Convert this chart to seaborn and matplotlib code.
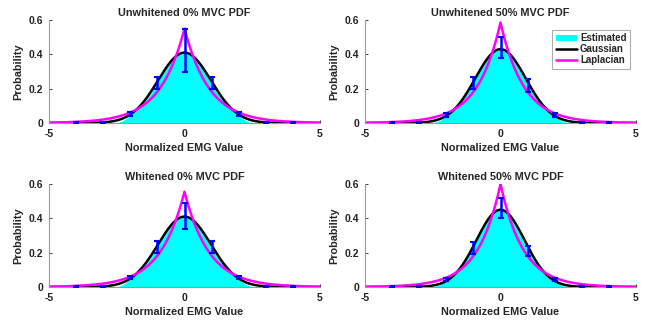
import numpy as np
import pandas as pd
import matplotlib
matplotlib.use("Agg")
import matplotlib.pyplot as plt
import seaborn as sns

sns.set_theme(style="ticks")
plt.rcParams['font.family'] = ['Liberation Sans', 'DejaVu Sans']
plt.rcParams['font.weight'] = 'bold'
plt.rcParams['axes.unicode_minus'] = False

titles = ["Unwhitened 0% MVC PDF", "Unwhitened 50% MVC PDF",
          "Whitened 0% MVC PDF", "Whitened 50% MVC PDF"]

# peak heights of fitted PDFs
gauss_peak = [0.41, 0.43, 0.41, 0.45]
lap_peak = [0.55, 0.585, 0.555, 0.60]

# estimated PDF (cyan area) sampled at these x positions
est_x = [-2.5, -2.25, -2.0, -1.75, -1.5, -1.25, -1.0, -0.75, -0.5, -0.25, 0.0,
         0.25, 0.5, 0.75, 1.0, 1.25, 1.5, 1.75, 2.0, 2.25, 2.5]
est_1 = [0.0, 0.015, 0.045, 0.075, 0.115, 0.17, 0.235, 0.30, 0.355, 0.395, 0.41,
         0.395, 0.355, 0.30, 0.235, 0.17, 0.115, 0.075, 0.045, 0.015, 0.0]
est_2 = [0.0, 0.013, 0.042, 0.072, 0.112, 0.17, 0.238, 0.31, 0.37, 0.415, 0.43,
         0.41, 0.36, 0.295, 0.225, 0.162, 0.108, 0.07, 0.042, 0.013, 0.0]
est_3 = [0.0, 0.016, 0.048, 0.078, 0.118, 0.172, 0.235, 0.30, 0.355, 0.395, 0.41,
         0.395, 0.355, 0.30, 0.235, 0.172, 0.118, 0.078, 0.048, 0.016, 0.0]
est_4 = [0.0, 0.012, 0.04, 0.068, 0.108, 0.165, 0.232, 0.31, 0.38, 0.435, 0.46,
         0.43, 0.37, 0.295, 0.218, 0.155, 0.102, 0.066, 0.04, 0.012, 0.0]
est_all = [est_1, est_2, est_3, est_4]

# error bars at integer points
eb_x = [-4, -3, -2, -1, 0, 1, 2, 3, 4]
eb_mean_1 = [0.002, 0.004, 0.05, 0.235, 0.425, 0.235, 0.05, 0.004, 0.002]
eb_err_1 = [0.002, 0.003, 0.012, 0.035, 0.125, 0.035, 0.012, 0.003, 0.002]
eb_mean_2 = [0.002, 0.004, 0.047, 0.235, 0.44, 0.22, 0.047, 0.004, 0.002]
eb_err_2 = [0.002, 0.003, 0.012, 0.035, 0.06, 0.037, 0.012, 0.003, 0.002]
eb_mean_3 = [0.002, 0.004, 0.055, 0.235, 0.415, 0.235, 0.055, 0.004, 0.002]
eb_err_3 = [0.002, 0.003, 0.01, 0.035, 0.075, 0.035, 0.01, 0.003, 0.002]
eb_mean_4 = [0.002, 0.004, 0.045, 0.225, 0.46, 0.21, 0.045, 0.004, 0.002]
eb_err_4 = [0.002, 0.003, 0.01, 0.035, 0.06, 0.03, 0.01, 0.003, 0.002]
eb_means = [eb_mean_1, eb_mean_2, eb_mean_3, eb_mean_4]
eb_errs = [eb_err_1, eb_err_2, eb_err_3, eb_err_4]

W, H = 646, 322
fig = plt.figure(figsize=(W / 100, H / 100), dpi=100)

# axes boxes in pixels: left, top, right, bottom
boxes = [(49, 20, 320, 123), (365, 20, 636, 123),
         (49, 184, 320, 287), (365, 184, 636, 287)]

xs = np.linspace(-5, 5, 801)
for i in range(4):
    l, t, r, b = boxes[i]
    ax = fig.add_axes([l / W, 1 - b / H, (r - l) / W, (b - t) / H])
    sig = 1.0 / (gauss_peak[i] * np.sqrt(2 * np.pi))
    lb = 1.0 / (2 * lap_peak[i])
    g = np.exp(-xs ** 2 / (2 * sig ** 2)) / (sig * np.sqrt(2 * np.pi))
    lp = np.exp(-np.abs(xs) / lb) / (2 * lb)
    ax.fill_between(est_x, 0, est_all[i], color='#00FFFF', lw=0, label='Estimated')
    sns.lineplot(x=xs, y=g, ax=ax, color='black', lw=1.8, label='Gaussian')
    sns.lineplot(x=xs, y=lp, ax=ax, color='#FF00FF', lw=1.8, label='Laplacian')
    ax.errorbar(eb_x, eb_means[i], yerr=eb_errs[i], fmt='none', ecolor='#0000FF',
                elinewidth=1.8, capsize=2.4, capthick=1.5, zorder=5)
    ax.set_xlim(-5, 5)
    ax.set_ylim(0, 0.6)
    ax.set_xticks([-5, 0, 5])
    ax.set_yticks([0, 0.2, 0.4, 0.6])
    ax.set_yticklabels(['0', '0.2', '0.4', '0.6'])
    ax.set_title(titles[i], fontsize=7.8, fontweight='bold', pad=3)
    ax.set_xlabel('Normalized EMG Value', fontsize=7.8, fontweight='bold', labelpad=3)
    ax.set_ylabel('Probability', fontsize=7.8, fontweight='bold', labelpad=4)
    ax.tick_params(direction='in', length=2, width=0.6, labelsize=7.5, pad=4,
                   colors='#222222')
    for lab in ax.get_xticklabels() + ax.get_yticklabels():
        lab.set_fontweight('bold')
    for s in ['top', 'right']:
        ax.spines[s].set_visible(False)
    for s in ['left', 'bottom']:
        ax.spines[s].set_color('#999999')
        ax.spines[s].set_linewidth(0.8)
    ax.set_facecolor('white')
    if i == 1:
        leg = ax.legend(loc='upper right', fontsize=7, frameon=True, fancybox=False,
                        borderpad=0.35, handlelength=2.2, handletextpad=0.3,
                        labelspacing=0.1, bbox_to_anchor=(0.995, 0.95))
        leg.get_frame().set_edgecolor('#999999')
        leg.get_frame().set_linewidth(0.8)
        for t_ in leg.get_texts():
            t_.set_fontweight('bold')
    else:
        if ax.get_legend() is not None:
            ax.get_legend().remove()

fig.savefig('out.png', dpi=100, facecolor='white')
